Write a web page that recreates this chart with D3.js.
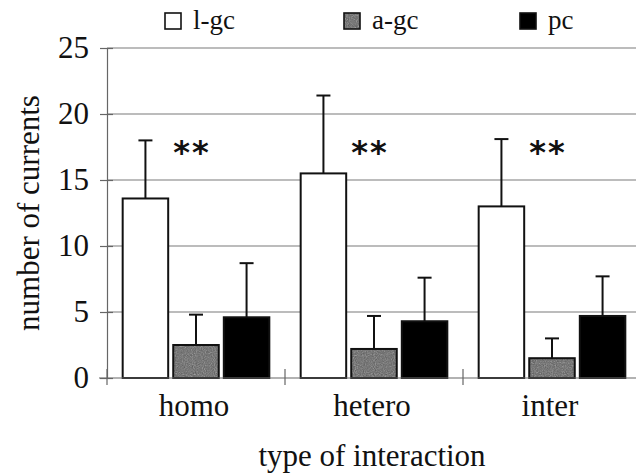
<!DOCTYPE html>
<html>
<head>
<meta charset="utf-8">
<script src="https://cdn.jsdelivr.net/npm/d3@7"></script>
<style>
  html, body { margin: 0; padding: 0; background: #fff; }
  svg { display: block; }
</style>
</head>
<body>
<svg id="chart" width="636" height="476"></svg>
<script>
// Interaction types on the x axis and the three current classes
const categories = ["homo", "hetero", "inter"];
const seriesNames = ["l-gc", "a-gc", "pc"];

// Mean number of currents per class, one entry per interaction type
const meanLgc = [13.6, 15.5, 13.0];
const meanAgc = [2.5, 2.2, 1.5];
const meanPc  = [4.6, 4.3, 4.7];

// Upper error (SD) per class
const sdLgc = [4.4, 5.9, 5.1];
const sdAgc = [2.3, 2.5, 1.5];
const sdPc  = [4.1, 3.3, 3.0];

// Significance marks and the value level they sit at
const significance = ["**", "**", "**"];
const significanceLevel = [17.6, 17.6, 17.6];

const yTicks = [0, 5, 10, 15, 20, 25];

const means = { "l-gc": meanLgc, "a-gc": meanAgc, "pc": meanPc };
const sds   = { "l-gc": sdLgc,   "a-gc": sdAgc,   "pc": sdPc };
const fills = { "l-gc": "#ffffff", "a-gc": "#8c8c8c", "pc": "#000000" };

const rows = [];
categories.forEach((c, i) => {
  seriesNames.forEach(s => rows.push({ cat: c, series: s, mean: means[s][i], sd: sds[s][i] }));
});

const SERIF = '"Liberation Serif"';
const SANS = '"DejaVu Sans"';
const svg = d3.select("#chart");

const plot = { left: 107, right: 641, top: 48, bottom: 378 };

const x = d3.scaleBand().domain(categories).range([plot.left, plot.right]).padding(0);
const xs = d3.scaleBand().domain(seriesNames).range([0, x.bandwidth()])
  .paddingInner(0.1).paddingOuter(0.31);
const y = d3.scaleLinear().domain([0, 25]).range([plot.bottom, plot.top]);

// grain texture for the grey bars
const defs = svg.append("defs");
const grain = defs.append("filter").attr("id", "grain")
  .attr("x", 0).attr("y", 0).attr("width", 1).attr("height", 1);
grain.append("feTurbulence").attr("type", "fractalNoise")
  .attr("baseFrequency", 0.9).attr("numOctaves", 2).attr("seed", 7).attr("result", "noise");
grain.append("feColorMatrix").attr("in", "noise").attr("type", "saturate").attr("values", 0).attr("result", "grey");
grain.append("feComposite").attr("in", "SourceGraphic").attr("in2", "grey")
  .attr("operator", "arithmetic").attr("k1", 0).attr("k2", 1).attr("k3", 0.5).attr("k4", -0.2)
  .attr("result", "mix");
grain.append("feComposite").attr("in", "mix").attr("in2", "SourceAlpha").attr("operator", "in");

// horizontal grid lines
svg.append("g").selectAll("line").data(yTicks.filter(t => t > 0)).join("line")
  .attr("x1", plot.left).attr("x2", plot.right)
  .attr("y1", d => y(d)).attr("y2", d => y(d))
  .attr("stroke", "#7a7a7a").attr("stroke-width", 1.2);

// y axis
const yAxis = svg.append("g").attr("transform", `translate(${plot.left},0)`)
  .call(d3.axisLeft(y).tickValues(yTicks).tickSize(7).tickPadding(11).tickSizeOuter(0));
yAxis.select(".domain").attr("stroke", "#666").attr("stroke-width", 1.2);
yAxis.selectAll(".tick line").attr("x2", 6).attr("x1", -7).attr("stroke", "#666").attr("stroke-width", 1.2);
yAxis.selectAll(".tick text")
  .style("font-family", SERIF).style("font-size", "31px").attr("fill", "#111");

// bars
const bars = svg.append("g");
bars.selectAll("rect.fill").data(rows).join("rect").attr("class", "fill")
  .attr("x", d => x(d.cat) + xs(d.series))
  .attr("y", d => y(d.mean))
  .attr("width", xs.bandwidth())
  .attr("height", d => y(0) - y(d.mean))
  .attr("fill", d => fills[d.series])
  .attr("filter", d => d.series === "a-gc" ? "url(#grain)" : null);
bars.selectAll("rect.edge").data(rows).join("rect").attr("class", "edge")
  .attr("x", d => x(d.cat) + xs(d.series))
  .attr("y", d => y(d.mean))
  .attr("width", xs.bandwidth())
  .attr("height", d => y(0) - y(d.mean))
  .attr("fill", "none").attr("stroke", "#111").attr("stroke-width", 2);

// upper error bars
const err = svg.append("g").attr("stroke", "#111").attr("stroke-width", 2);
err.selectAll("line.v").data(rows).join("line").attr("class", "v")
  .attr("x1", d => x(d.cat) + xs(d.series) + xs.bandwidth() / 2)
  .attr("x2", d => x(d.cat) + xs(d.series) + xs.bandwidth() / 2)
  .attr("y1", d => y(d.mean)).attr("y2", d => y(d.mean + d.sd));
err.selectAll("line.cap").data(rows).join("line").attr("class", "cap")
  .attr("x1", d => x(d.cat) + xs(d.series) + xs.bandwidth() / 2 - 7)
  .attr("x2", d => x(d.cat) + xs(d.series) + xs.bandwidth() / 2 + 7)
  .attr("y1", d => y(d.mean + d.sd)).attr("y2", d => y(d.mean + d.sd));

// x axis
const xAxis = svg.append("g").attr("transform", `translate(0,${plot.bottom})`);
xAxis.append("line").attr("x1", plot.left - 8).attr("x2", plot.right)
  .attr("stroke", "#666").attr("stroke-width", 1.2);
xAxis.selectAll("line.tick").data(categories).join("line").attr("class", "tick")
  .attr("x1", d => x(d)).attr("x2", d => x(d))
  .attr("y1", -9).attr("y2", 7)
  .attr("stroke", "#666").attr("stroke-width", 1.2);
xAxis.selectAll("text").data(categories).join("text")
  .attr("x", d => x(d) + x.bandwidth() / 2 - 2)
  .attr("y", 38)
  .attr("text-anchor", "middle")
  .style("font-family", SERIF).style("font-size", "31px").attr("fill", "#111")
  .text(d => d);

// significance marks over the a-gc bars
svg.append("g").selectAll("text").data(categories).join("text")
  .attr("x", (d, i) => x(d) + xs("a-gc") + xs.bandwidth() / 2 - 4)
  .attr("y", (d, i) => y(significanceLevel[i]) + 17)
  .attr("text-anchor", "middle")
  .style("font-family", SANS).style("font-weight", "bold")
  .style("font-size", "32px").attr("letter-spacing", 2).attr("fill", "#111")
  .text((d, i) => significance[i]);

// axis titles
svg.append("text")
  .attr("x", (plot.left + plot.right) / 2 - 2).attr("y", 466)
  .attr("text-anchor", "middle")
  .style("font-family", SERIF).style("font-size", "31px").attr("fill", "#111")
  .text("type of interaction");
svg.append("text")
  .attr("transform", `translate(39,${(plot.top + plot.bottom) / 2}) rotate(-90)`)
  .attr("text-anchor", "middle")
  .style("font-family", SERIF).style("font-size", "31px").attr("fill", "#111")
  .text("number of currents");

// legend
const legendX = [165, 344, 520];
const legend = svg.append("g");
const item = legend.selectAll("g").data(seriesNames).join("g")
  .attr("transform", (d, i) => `translate(${legendX[i]},13)`);
item.append("rect").attr("width", 16).attr("height", 16)
  .attr("fill", d => fills[d])
  .attr("filter", d => d === "a-gc" ? "url(#grain)" : null);
item.append("rect").attr("width", 16).attr("height", 16)
  .attr("fill", "none").attr("stroke", "#111").attr("stroke-width", 1.6);
item.append("text").attr("x", 28).attr("y", 16)
  .style("font-family", SERIF).style("font-size", "27px").attr("fill", "#111")
  .text(d => d);
</script>
</body>
</html>
